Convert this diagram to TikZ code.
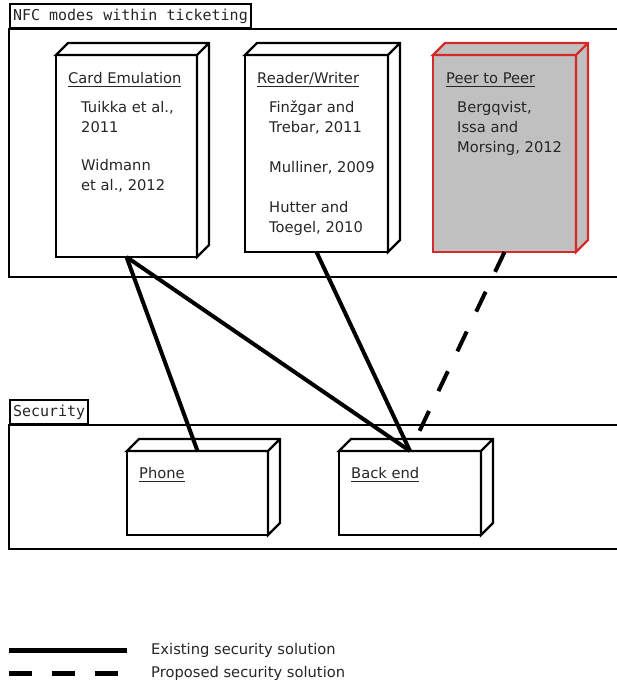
\documentclass[tikz,border=0pt]{standalone}
\usepackage{fontspec}
\setmainfont{DejaVu Sans}
\newfontfamily\tabfont{DejaVu Sans Mono}
\definecolor{boxGray}{HTML}{C0C0C0}
\definecolor{boxRed}{HTML}{D42A2A}
\newcommand{\ulabel}[1]{\setbox0=\hbox{#1}\rlap{\rule[-4pt]{\wd0}{1.3pt}}\box0}

\begin{document}
\begin{tikzpicture}[x=1pt,y=-1pt,%%
  frameStyle/.style={draw,line width=2pt},%%
  tabStyle/.style={draw,line width=2pt,anchor=south west,inner xsep=3pt,
    minimum height=24pt,font=\tabfont\fontsize{15}{18}\selectfont,text=black!85},%%
  boxStyle/.style={draw,line width=2.4pt,fill=white,anchor=north west,
    inner sep=0pt,outer sep=0pt},%%
  titleStyle/.style={anchor=base west,inner sep=0pt,
    font=\fontsize{14.7}{20}\selectfont,text=black!85},%%
  refStyle/.style={titleStyle,anchor=north west,align=left},%%
  lineStyle/.style={-,line width=4pt},%%
  proposedStyle/.style={lineStyle,dash pattern=on 22pt off 22pt}
]
\useasboundingbox (0,0) rectangle (616,680);
\pgfmathsetmacro{\depth}{12}
%%
%% The two packages.
%%
\node[tabStyle] (nfcTab) at (9,29) {NFC modes within ticketing};
\draw[frameStyle] (nfcTab.south west) rectangle (630,277);
\node[tabStyle] (secTab) at (9,425) {Security};
\draw[frameStyle] (secTab.south west) rectangle (630,549);
%%
%% The nodes of the diagram.
%%
\node[boxStyle,minimum width=141pt,minimum height=202pt] (ce) at (56,55) {};
\node[boxStyle,minimum width=143pt,minimum height=197pt] (rw) at (245,55) {};
\node[boxStyle,minimum width=143pt,minimum height=197pt,draw=boxRed,
  fill=boxGray,line width=2pt] (pp) at (433,55) {};
\node[boxStyle,minimum width=141pt,minimum height=84pt] (phone) at (127,451) {};
\node[boxStyle,minimum width=142pt,minimum height=84pt] (backEnd) at (339,451) {};
%% Their depth.
\foreach \n/\c/\d in {ce/white/black,rw/white/black,pp/boxGray/boxRed,
  phone/white/black,backEnd/white/black} {
  \draw[line width=2.2pt,draw=\d,fill=\c]
    (\n.north west) -- ++(\depth,-\depth)
    -- ([shift={(\depth,-\depth)}]\n.north east)
    -- ([shift={(\depth,-\depth)}]\n.south east)
    -- (\n.south east) -- (\n.north east) -- cycle
    (\n.north east) -- ++(\depth,-\depth);
}
%% Their texts.
\node[titleStyle] (ceTitle) at ([shift={(12,28)}]ce.north west) {\ulabel{Card Emulation}};
\node[refStyle] (ceRefs) at ([shift={(25,46)}]ce.north west)
  {Tuikka et al.,\\2011\\[18pt]Widmann\\et al., 2012};
\node[titleStyle] (rwTitle) at ([shift={(12,28)}]rw.north west) {\ulabel{Reader/Writer}};
\node[refStyle] (rwRefs) at ([shift={(24,46)}]rw.north west)
  {Finžgar and\\Trebar, 2011\\[20pt]Mulliner, 2009\\[20pt]Hutter and\\Toegel, 2010};
\node[titleStyle] (ppTitle) at ([shift={(13,28)}]pp.north west) {\ulabel{Peer to Peer}};
\node[refStyle] (ppRefs) at ([shift={(24,46)}]pp.north west)
  {Bergqvist,\\Issa and\\Morsing, 2012};
\node[titleStyle] (phoneTitle) at ([shift={(12,27)}]phone.north west) {\ulabel{Phone}};
\node[titleStyle] (backEndTitle) at ([shift={(12,27)}]backEnd.north west) {\ulabel{Back end}};
%%
%% The security solutions.
%%
\draw[lineStyle] (ce.south) -- (phone.north);
\draw[lineStyle] (ce.south) -- (backEnd.north);
\draw[lineStyle] (rw.south) -- (backEnd.north);
\draw[proposedStyle] (pp.south) -- (backEnd.north);
%%
%% The legend.
%%
\coordinate (existingA) at (9,650);
\coordinate (existingB) at (127,650);
\coordinate (proposedA) at (9,673);
\coordinate (proposedB) at (118,673);
\draw[lineStyle,line width=5pt] (existingA) -- (existingB);
\draw[lineStyle,line width=5pt,dash pattern=on 23pt off 20pt] (proposedA) -- (proposedB);
\node[titleStyle] (existingText) at (151,654) {Existing security solution};
\node[titleStyle] (proposedText) at (151,677) {Proposed security solution};
\end{tikzpicture}
\end{document}
